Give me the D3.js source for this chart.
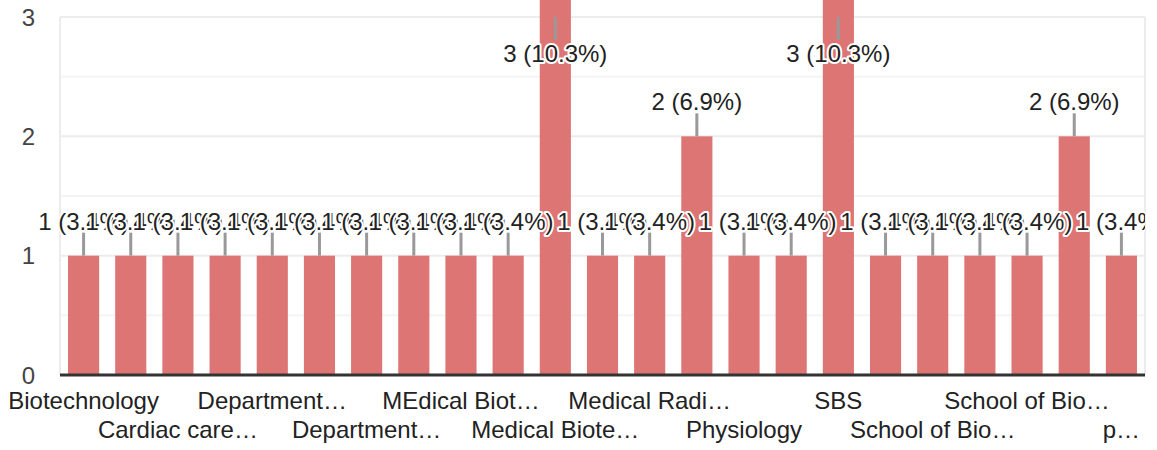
<!DOCTYPE html>
<html>
<head>
<meta charset="utf-8">
<script src="https://cdn.jsdelivr.net/npm/d3@7"></script>
<style>
  html, body { margin: 0; padding: 0; background: #fff; }
  svg { display: block; font-family: "Liberation Sans", Arial, sans-serif; }
</style>
</head>
<body>
<div id="chart"></div>
<script>
// Responses per department (29 total)
const CATEGORIES = [
  'Biotechnology', 'Botany', 'Cardiac care…', 'Chemistry', 'Department…',
  'Department of Life Sciences', 'Department…', 'Genetics', 'MEdical Biot…', 'MSc Biotech',
  'Medical Biote…', 'Medical Microbiology', 'Medical Radi…', 'Microbiology', 'Physiology',
  'Radiology', 'SBS', 'SLS', 'School of Bio…', 'School of Biosciences',
  'School of Bio…', 'Zoology', 'p…'
];
const COUNTS = [1, 1, 1, 1, 1, 1, 1, 1, 1, 1, 3, 1, 1, 2, 1, 1, 3, 1, 1, 1, 1, 2, 1];
const Y_TICKS = [0, 1, 2, 3];
const Y_MINOR = [0.5, 1.5, 2.5];

const W = 1157, H = 450;
const PLOT = { left: 60, right: 1145, top: 17, bottom: 375 };
const BAR_COLOR = '#dd7574';

const total = d3.sum(COUNTS);

const svg = d3.select('#chart').append('svg')
  .attr('width', W)
  .attr('height', H);

const x = d3.scaleBand()
  .domain(d3.range(CATEGORIES.length))
  .range([PLOT.left, PLOT.right])
  .paddingInner(0.34)
  .paddingOuter(0.17);

const yMax = d3.max(Y_TICKS);
const y = d3.scaleLinear().domain([0, yMax]).range([PLOT.bottom, PLOT.top]);

// gridlines
svg.append('g').selectAll('line')
  .data(Y_MINOR)
  .join('line')
  .attr('x1', PLOT.left).attr('x2', PLOT.right)
  .attr('y1', d => y(d)).attr('y2', d => y(d))
  .attr('stroke', '#f4f4f4')
  .attr('stroke-width', 2);

svg.append('g').selectAll('line')
  .data(Y_TICKS.filter(d => d > 0))
  .join('line')
  .attr('x1', PLOT.left).attr('x2', PLOT.right)
  .attr('y1', d => y(d)).attr('y2', d => y(d))
  .attr('stroke', '#ececec')
  .attr('stroke-width', 2);

// side borders
svg.append('g').selectAll('line')
  .data([PLOT.left, PLOT.right])
  .join('line')
  .attr('x1', d => d).attr('x2', d => d)
  .attr('y1', PLOT.top).attr('y2', PLOT.bottom)
  .attr('stroke', '#ececec')
  .attr('stroke-width', 2);

// y tick labels
svg.append('g').selectAll('text')
  .data(Y_TICKS)
  .join('text')
  .attr('x', 35)
  .attr('y', d => y(d))
  .attr('dy', '0.36em')
  .attr('text-anchor', 'end')
  .style('font-size', '24px')
  .style('fill', '#444')
  .text(d => d);

// bars (bars at the top of the range run off the top edge, as in the original)
svg.append('g').selectAll('rect')
  .data(COUNTS)
  .join('rect')
  .attr('x', (d, i) => x(i))
  .attr('width', x.bandwidth())
  .attr('y', d => d >= yMax ? 0 : y(d))
  .attr('height', d => PLOT.bottom - (d >= yMax ? 0 : y(d)))
  .attr('fill', BAR_COLOR);

// baseline
svg.append('line')
  .attr('x1', PLOT.left).attr('x2', PLOT.right)
  .attr('y1', y(0)).attr('y2', y(0))
  .attr('stroke', '#333')
  .attr('stroke-width', 3);

// value labels with leader lines
svg.append('clipPath').attr('id', 'lblclip')
  .append('rect').attr('x', 0).attr('y', 0).attr('width', PLOT.right).attr('height', H);

const lbl = svg.append('g').attr('clip-path', 'url(#lblclip)');
COUNTS.forEach((v, i) => {
  const cx = x(i) + x.bandwidth() / 2;
  const top = y(v);
  const inside = v >= yMax;
  lbl.append('line')
    .attr('x1', cx).attr('x2', cx)
    .attr('y1', top)
    .attr('y2', inside ? top + 23 : top - 23)
    .attr('stroke', '#999')
    .attr('stroke-width', 3);
  lbl.append('text')
    .attr('x', cx)
    .attr('y', inside ? top + 45 : top - 26)
    .attr('text-anchor', 'middle')
    .style('font-size', '24px')
    .style('fill', '#222')
    .style('stroke', '#fff')
    .style('stroke-width', 4)
    .style('paint-order', 'stroke')
    .style('stroke-linejoin', 'round')
    .text(`${v} (${(v / total * 100).toFixed(1)}%)`);
});

// category labels: every other bar, alternating rows
svg.append('g').selectAll('text')
  .data(CATEGORIES.map((c, i) => ({ c, i })).filter(d => d.i % 2 === 0))
  .join('text')
  .attr('x', d => x(d.i) + x.bandwidth() / 2)
  .attr('y', d => (d.i / 2) % 2 === 0 ? 409 : 438)
  .attr('text-anchor', 'middle')
  .style('font-size', '24px')
  .style('fill', '#222')
  .text(d => d.c);
</script>
</body>
</html>
